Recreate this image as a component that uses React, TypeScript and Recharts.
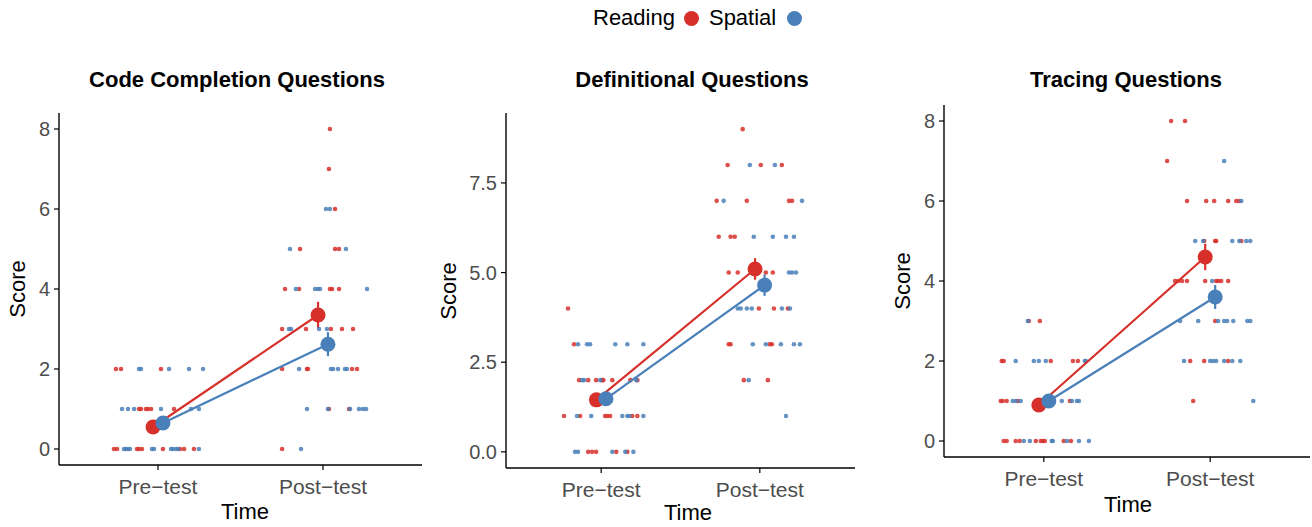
import React from 'react';
import { ScatterChart, Scatter, XAxis, YAxis, ErrorBar } from 'recharts';

const RED = '#D7302A';
const BLUE = '#4A80BA';
const FONT = '"Liberation Sans", Arial, Helvetica, sans-serif';

const timeLabels = ['Pre\u2212test', 'Post\u2212test'];

// [jittered time position (1 = Pre-test, 2 = Post-test), score]
type Pt = [number, number];

const codeReading: Pt[] = [
  [0.745, 2], [0.776, 2], [1.018, 2],
  [0.885, 1], [0.897, 1], [0.927, 1], [0.939, 1], [0.958, 1], [1.097, 1],
  [0.733, 0], [0.752, 0], [0.873, 0], [0.885, 0], [0.903, 0], [1.03, 0], [1.133, 0], [1.158, 0], [1.218, 0],
  [2.042, 8], [2.036, 7], [2.073, 6],
  [1.861, 5], [2.073, 5], [2.097, 5],
  [1.77, 4], [1.855, 4], [2.042, 4], [2.055, 4], [2.097, 4],
  [1.752, 3], [1.897, 3], [2.048, 3], [2.115, 3], [2.182, 3],
  [1.752, 2], [1.903, 2], [1.909, 2], [2.176, 2], [2.206, 2],
  [2.036, 1], [2.158, 1],
  [1.752, 0],
];
const codeSpatial: Pt[] = [
  [0.885, 2], [0.897, 2], [1.067, 2], [1.188, 2], [1.273, 2],
  [0.782, 1], [0.818, 1], [0.855, 1], [1.018, 1], [1.2, 1], [1.248, 1],
  [0.794, 0], [0.806, 0], [0.818, 0], [0.83, 0], [0.964, 0], [0.976, 0], [1.079, 0], [1.091, 0], [1.109, 0], [1.121, 0], [1.248, 0],
  [2.018, 6], [2.042, 6],
  [1.8, 5], [2.139, 5],
  [1.836, 4], [1.952, 4], [1.97, 4], [1.982, 4], [2.267, 4],
  [1.794, 3], [1.806, 3], [1.976, 3], [2.024, 3],
  [1.855, 2], [2.048, 2], [2.061, 2], [2.091, 2], [2.133, 2], [2.145, 2],
  [1.903, 1], [2.03, 1], [2.164, 1], [2.218, 1], [2.242, 1], [2.261, 1],
  [1.867, 0],
];
const codeReadingMean = [0.55, 3.35];
const codeReadingSe = [0.13, 0.33];
const codeSpatialMean = [0.65, 2.62];
const codeSpatialSe = [0.12, 0.3];

const defReading: Pt[] = [
  [0.791, 4], [0.829, 3],
  [0.861, 2], [0.918, 2], [0.968, 2], [1.006, 2], [1.013, 2], [1.07, 2], [1.184, 2], [1.228, 2],
  [0.766, 1], [0.867, 1], [1.025, 1], [1.038, 1], [1.057, 1], [1.196, 1], [1.228, 1],
  [0.918, 0], [0.943, 0], [0.968, 0], [1.095, 0], [1.165, 0],
  [1.892, 9],
  [1.797, 8], [2.006, 8], [2.139, 8],
  [1.728, 7], [1.918, 7], [2.184, 7], [2.203, 7],
  [1.741, 6], [1.816, 6], [1.842, 6],
  [1.804, 5], [1.861, 5], [2.038, 5], [2.082, 5],
  [1.994, 4], [2.089, 4], [2.177, 4],
  [1.804, 3], [1.816, 3], [2.063, 3], [2.076, 3],
  [1.899, 2], [2.051, 2],
];
const defSpatial: Pt[] = [
  [0.854, 3], [0.911, 3], [0.93, 3], [1.089, 3], [1.165, 3], [1.266, 3],
  [0.88, 2], [0.892, 2], [0.994, 2], [1.222, 2],
  [0.848, 1], [0.937, 1], [1.133, 1], [1.165, 1], [1.177, 1], [1.266, 1],
  [0.835, 0], [0.854, 0], [1.07, 0], [1.152, 0], [1.203, 0],
  [1.937, 8], [2.095, 8],
  [1.772, 7], [2.266, 7],
  [1.962, 6], [2.082, 6], [2.165, 6], [2.215, 6],
  [1.949, 5], [2.184, 5], [2.203, 5], [2.228, 5],
  [1.861, 4], [1.88, 4], [1.918, 4], [1.949, 4], [2.139, 4], [2.19, 4],
  [1.956, 3], [2.038, 3], [2.133, 3], [2.215, 3], [2.253, 3],
  [1.93, 2], [2.165, 1],
];
const defReadingMean = [1.45, 5.1];
const defReadingSe = [0.15, 0.3];
const defSpatialMean = [1.48, 4.65];
const defSpatialSe = [0.15, 0.3];

const traceReading: Pt[] = [
  [0.91, 3], [0.976, 3],
  [0.747, 2], [0.759, 2], [1.042, 2], [1.175, 2], [1.205, 2],
  [0.741, 1], [0.753, 1], [0.777, 1], [0.843, 1], [1.054, 1], [1.157, 1],
  [0.759, 0], [0.777, 0], [0.831, 0], [0.855, 0], [0.952, 0], [0.982, 0], [0.994, 0], [1.006, 0], [1.12, 0], [1.163, 0],
  [1.765, 8], [1.849, 8], [1.741, 7],
  [1.861, 6], [1.976, 6], [2.024, 6], [2.108, 6], [2.157, 6], [2.175, 6],
  [1.964, 5], [2.03, 5], [2.036, 5], [2.187, 5],
  [1.789, 4], [1.807, 4], [1.831, 4], [1.861, 4], [1.97, 4], [2.036, 4], [2.048, 4], [2.066, 4], [2.108, 4],
  [2.03, 3],
  [1.88, 2], [1.964, 2], [2.108, 2],
  [1.898, 1],
];
const traceSpatial: Pt[] = [
  [0.904, 3],
  [0.831, 2], [0.94, 2], [0.97, 2], [1.012, 2], [1.247, 2], [1.253, 2],
  [0.813, 1], [0.831, 1], [0.861, 1], [1.0, 1], [1.024, 1], [1.108, 1], [1.169, 1], [1.199, 1], [1.211, 1],
  [0.88, 0], [0.916, 0], [1.048, 0], [1.054, 0], [1.139, 0], [1.211, 0], [1.271, 0],
  [2.084, 7], [2.187, 6],
  [1.91, 5], [1.958, 5], [2.133, 5], [2.175, 5], [2.217, 5], [2.241, 5],
  [2.012, 4],
  [1.819, 3], [1.928, 3], [2.048, 3], [2.084, 3], [2.102, 3], [2.139, 3], [2.223, 3], [2.241, 3],
  [1.843, 2], [2.0, 2], [2.018, 2], [2.036, 2], [2.084, 2], [2.133, 2], [2.181, 2],
  [2.259, 1],
];
const traceReadingMean = [0.9, 4.6];
const traceReadingSe = [0.12, 0.33];
const traceSpatialMean = [1.0, 3.6];
const traceSpatialSe = [0.12, 0.3];

const DODGE = 0.03;
const Y_AXIS_W = 60;
const H = 527;

const toPoints = (arr: Pt[]) => arr.map(([x, y]) => ({ x, y }));
const toMeans = (m: number[], se: number[], shift: number) =>
  m.map((v, i) => ({ x: i + 1 + shift, y: v, se: se[i] }));

const smallDot = (color: string) => (p: any) => (
  <circle cx={p.cx} cy={p.cy} r={2.3} fill={color} fillOpacity={0.85} />
);
const bigDot = (color: string) => (p: any) => (
  <circle cx={p.cx} cy={p.cy} r={7.5} fill={color} />
);

const xTickStyle = { fill: '#4D4D4D', fontSize: 21, fontFamily: FONT };
const yTickStyle = { fill: '#4D4D4D', fontSize: 20, fontFamily: FONT };

function AxisText({ x, y, text, rotate, bold, size }: any) {
  return (
    <div
      style={{
        position: 'absolute',
        left: x,
        top: y,
        transform: `translate(-50%, -50%)${rotate ? ' rotate(-90deg)' : ''}`,
        whiteSpace: 'nowrap',
        fontFamily: FONT,
        fontSize: size,
        fontWeight: bold ? 'bold' : 'normal',
        color: '#000',
        lineHeight: 1,
      }}
    >
      {text}
    </div>
  );
}

function Panel(props: any) {
  const { title, titleX, plot, yDomain, yTicks, yFmt, reading, spatial, rMean, rSe, sMean, sSe, scoreX, timeX, timeY } = props;
  const [L, T, R, B] = plot;
  return (
    <>
      <div style={{ position: 'absolute', left: L - Y_AXIS_W, top: 0 }}>
        <ScatterChart width={R - L + Y_AXIS_W + 4} height={H} margin={{ top: T, right: 4, bottom: 0, left: 0 }}>
          <XAxis
            type="number"
            dataKey="x"
            domain={[0.4, 2.6]}
            ticks={[1, 2]}
            tickFormatter={(v: number) => timeLabels[Math.round(v) - 1]}
            height={H - B}
            allowDataOverflow
            axisLine={{ stroke: '#000', strokeWidth: 1.4 }}
            tickLine={{ stroke: '#000', strokeWidth: 1.2 }}
            tickSize={5}
            tickMargin={9}
            tick={xTickStyle}
          />
          <YAxis
            type="number"
            dataKey="y"
            domain={yDomain}
            ticks={yTicks}
            tickFormatter={yFmt}
            width={Y_AXIS_W}
            allowDataOverflow
            axisLine={{ stroke: '#000', strokeWidth: 1.4 }}
            tickLine={{ stroke: '#000', strokeWidth: 1.2 }}
            tickSize={5}
            tickMargin={4}
            tick={yTickStyle}
          />
          <Scatter data={toPoints(reading)} shape={smallDot(RED)} isAnimationActive={false} />
          <Scatter data={toPoints(spatial)} shape={smallDot(BLUE)} isAnimationActive={false} />
          <Scatter
            data={toMeans(rMean, rSe, -DODGE)}
            shape={bigDot(RED)}
            line={{ stroke: RED, strokeWidth: 2.2 }}
            lineType="joint"
            isAnimationActive={false}
          >
            <ErrorBar dataKey="se" direction="y" width={0} stroke={RED} strokeWidth={2.2} />
          </Scatter>
          <Scatter
            data={toMeans(sMean, sSe, DODGE)}
            shape={bigDot(BLUE)}
            line={{ stroke: BLUE, strokeWidth: 2.2 }}
            lineType="joint"
            isAnimationActive={false}
          >
            <ErrorBar dataKey="se" direction="y" width={0} stroke={BLUE} strokeWidth={2.2} />
          </Scatter>
        </ScatterChart>
      </div>
      <AxisText x={titleX} y={80} text={title} bold size={22} />
      <AxisText x={scoreX} y={(T + B) / 2} text="Score" rotate size={22} />
      <AxisText x={timeX} y={timeY} text="Time" size={22} />
    </>
  );
}

export default function App() {
  const intFmt = (v: number) => String(v);
  const decFmt = (v: number) => v.toFixed(1);
  return (
    <div style={{ position: 'absolute', left: 0, top: 0, width: 1312, height: H, background: '#fff', overflow: 'hidden' }}>
      <div
        style={{
          position: 'absolute',
          left: 593,
          top: 2,
          height: 32,
          display: 'flex',
          alignItems: 'center',
          fontFamily: FONT,
          fontSize: 22,
          color: '#000',
          whiteSpace: 'nowrap',
        }}
      >
        <span>Reading</span>
        <span style={{ display: 'inline-block', width: 15, height: 15, borderRadius: '50%', background: RED, margin: '0 10px 0 9px' }} />
        <span>Spatial</span>
        <span style={{ display: 'inline-block', width: 15, height: 15, borderRadius: '50%', background: BLUE, marginLeft: 11 }} />
      </div>

      <Panel
        title="Code Completion Questions"
        titleX={237}
        plot={[59, 113, 422, 465]}
        yDomain={[-0.4, 8.4]}
        yTicks={[0, 2, 4, 6, 8]}
        yFmt={intFmt}
        reading={codeReading}
        spatial={codeSpatial}
        rMean={codeReadingMean}
        rSe={codeReadingSe}
        sMean={codeSpatialMean}
        sSe={codeSpatialSe}
        scoreX={18}
        timeX={245}
        timeY={512}
      />
      <Panel
        title="Definitional Questions"
        titleX={692}
        plot={[506, 113, 855, 468]}
        yDomain={[-0.45, 9.45]}
        yTicks={[0, 2.5, 5, 7.5]}
        yFmt={decFmt}
        reading={defReading}
        spatial={defSpatial}
        rMean={defReadingMean}
        rSe={defReadingSe}
        sMean={defSpatialMean}
        sSe={defSpatialSe}
        scoreX={449}
        timeX={688}
        timeY={513}
      />
      <Panel
        title="Tracing Questions"
        titleX={1126}
        plot={[944, 105, 1310, 457]}
        yDomain={[-0.4, 8.4]}
        yTicks={[0, 2, 4, 6, 8]}
        yFmt={intFmt}
        reading={traceReading}
        spatial={traceSpatial}
        rMean={traceReadingMean}
        rSe={traceReadingSe}
        sMean={traceSpatialMean}
        sSe={traceSpatialSe}
        scoreX={903}
        timeX={1128}
        timeY={505}
      />
    </div>
  );
}
